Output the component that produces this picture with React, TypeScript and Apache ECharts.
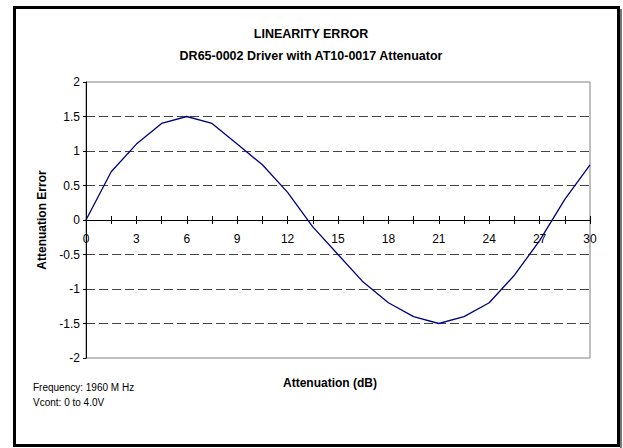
import React, { useEffect, useRef } from "react";
import * as echarts from "echarts";

const attenuation = [0, 1.5, 3, 4.5, 6, 7.5, 9, 10.5, 12, 13.5, 15, 16.5, 18, 19.5, 21, 22.5, 24, 25.5, 27, 28.5, 30];
const linearityError = [0, 0.7, 1.1, 1.4, 1.5, 1.4, 1.1, 0.8, 0.4, -0.1, -0.5, -0.9, -1.2, -1.4, -1.5, -1.4, -1.2, -0.8, -0.3, 0.3, 0.8];

const titleLine1 = "LINEARITY ERROR";
const titleLine2 = "DR65-0002 Driver with AT10-0017 Attenuator";
const xName = "Attenuation (dB)";
const yName = "Attenuation Error";
const note1 = "Frequency: 1960 M Hz";
const note2 = "Vcont: 0 to 4.0V";

const FONT = "'Liberation Sans', Arial, sans-serif";

const GRID_TOP = 82;
const GRID_BOTTOM = 90;
const GRID_H = 448 - GRID_TOP - GRID_BOTTOM;
// distance from the grid edge to the zero line (y range -2..2 is symmetric)
const ZERO_OFFSET = -GRID_H / 2;

export default function App() {
  const ref = useRef<HTMLDivElement>(null);
  useEffect(() => {
    if (!ref.current) return;
    const chart = echarts.init(ref.current, null, { renderer: "svg" });
    const data = attenuation.map((x, i) => [x, linearityError[i]]);
    chart.setOption({
      animation: false,
      backgroundColor: "#ffffff",
      textStyle: { fontFamily: FONT },
      grid: { left: 86, right: 33, top: GRID_TOP, bottom: GRID_BOTTOM, show: true, borderColor: "#808080", borderWidth: 1, backgroundColor: "transparent", containLabel: false, outerBoundsMode: "none" },
      xAxis: [
        {
          type: "value",
          min: 0,
          max: 30,
          interval: 1.5,
          position: "bottom",
          offset: ZERO_OFFSET,
          axisLine: { show: true, onZero: false, lineStyle: { color: "#000", width: 1 } },
          axisTick: { show: true, inside: false, length: 4, lineStyle: { color: "#000" } },
          axisLabel: {
            show: true,
            margin: 13,
            fontSize: 12,
            color: "#000",
            fontFamily: FONT,
            formatter: (v: number) => (Math.abs(v % 3) < 1e-6 ? String(v) : ""),
          },
          splitLine: { show: false },
          z: 4,
        },
        {
          type: "value",
          min: 0,
          max: 30,
          interval: 1.5,
          position: "top",
          offset: ZERO_OFFSET,
          axisLine: { show: true, onZero: false, lineStyle: { color: "#000", width: 1 } },
          axisTick: { show: true, inside: false, length: 4, lineStyle: { color: "#000" } },
          axisLabel: { show: false },
          splitLine: { show: false },
          z: 4,
        },
      ],
      yAxis: {
        type: "value",
        min: -2,
        max: 2,
        interval: 0.5,
        axisLine: { show: true, onZero: false, lineStyle: { color: "#000", width: 1 } },
        axisTick: { show: true, length: 3, lineStyle: { color: "#000" } },
        axisLabel: { fontSize: 12, color: "#000", margin: 6, fontFamily: FONT },
        splitLine: {
          show: true,
          showMinLine: false,
          showMaxLine: false,
          lineStyle: { color: "#444", type: [9, 4], width: 1 },
        },
      },
      series: [
        {
          type: "line",
          data,
          xAxisIndex: 0,
          yAxisIndex: 0,
          showSymbol: false,
          symbol: "none",
          lineStyle: { color: "#000080", width: 1.3 },
          z: 5,
        },
      ],
      graphic: [
        {
          type: "rect",
          shape: { x: 14.5, y: 7.5, width: 604, height: 438 },
          style: { fill: "none", stroke: "#000", lineWidth: 3 },
          silent: true,
        },
        {
          type: "line",
          shape: { x1: 621, y1: 9, x2: 621, y2: 448 },
          style: { stroke: "#777", lineWidth: 2 },
          silent: true,
        },
        {
          type: "text",
          x: 311,
          y: 34,
          style: { text: titleLine1, fontFamily: FONT, fontSize: 12.5, fontWeight: "bold", fill: "#000", align: "center", verticalAlign: "middle" },
        },
        {
          type: "text",
          x: 311,
          y: 56,
          style: { text: titleLine2, fontFamily: FONT, fontSize: 12.5, fontWeight: "bold", fill: "#000", align: "center", verticalAlign: "middle" },
        },
        {
          type: "text",
          x: 330,
          y: 383,
          style: { text: xName, fontFamily: FONT, fontSize: 12, fontWeight: "bold", fill: "#000", align: "center", verticalAlign: "middle" },
        },
        {
          type: "text",
          x: 42,
          y: 220,
          rotation: Math.PI / 2,
          style: { text: yName, fontFamily: FONT, fontSize: 12, fontWeight: "bold", fill: "#000", align: "center", verticalAlign: "middle" },
        },
        {
          type: "text",
          x: 33,
          y: 387,
          style: { text: note1, fontFamily: FONT, fontSize: 10, fill: "#000", align: "left", verticalAlign: "middle" },
        },
        {
          type: "text",
          x: 33,
          y: 402,
          style: { text: note2, fontFamily: FONT, fontSize: 10, fill: "#000", align: "left", verticalAlign: "middle" },
        },
      ],
    });
    return () => chart.dispose();
  }, []);
  return <div ref={ref} style={{ position: "fixed", left: 0, top: 0, width: 623, height: 448 }} />;
}
